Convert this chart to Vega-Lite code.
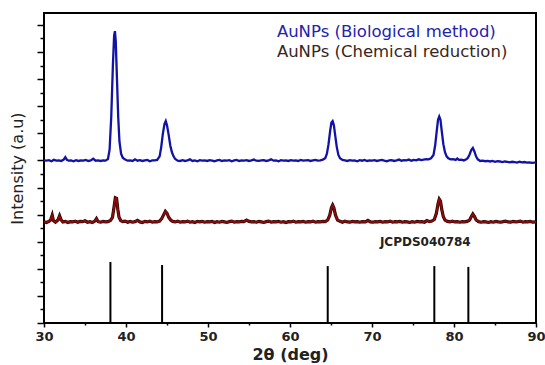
{
"$schema": "https://vega.github.io/schema/vega-lite/v6.json",
"width": 492,
"height": 310,
"autosize": "none",
"padding": {"left": 44, "top": 13, "right": 9, "bottom": 42},
"config": {"view": {"stroke": "#000", "strokeWidth": 2}, "font": "DejaVu Sans"},
"datasets": {
"blue": [
{"x":30.0,"y":6.0},{"x":30.3,"y":5.99},{"x":30.6,"y":6.01},{"x":30.9,"y":5.97},{"x":31.2,"y":6.02},{"x":31.5,"y":5.99},{"x":31.8,"y":6.0},{"x":32.1,"y":5.98},{"x":32.4,"y":6.03},{"x":32.6,"y":6.12},{"x":32.8,"y":6.02},{"x":33.0,"y":5.99},{"x":33.3,"y":6.0},{"x":33.6,"y":5.97},{"x":33.9,"y":6.01},{"x":34.2,"y":5.98},{"x":34.5,"y":6.0},{"x":34.8,"y":5.99},{"x":35.1,"y":6.02},{"x":35.4,"y":5.98},{"x":35.7,"y":6.0},{"x":36.0,"y":6.06},{"x":36.3,"y":5.99},{"x":36.6,"y":6.0},{"x":36.9,"y":5.98},{"x":37.2,"y":6.0},{"x":37.5,"y":5.99},{"x":37.8,"y":6.05},{"x":38.0,"y":6.4},{"x":38.2,"y":7.6},{"x":38.4,"y":9.5},{"x":38.55,"y":10.6},{"x":38.65,"y":10.77},{"x":38.75,"y":10.4},{"x":38.9,"y":9.0},{"x":39.05,"y":7.6},{"x":39.2,"y":6.7},{"x":39.4,"y":6.25},{"x":39.6,"y":6.1},{"x":39.9,"y":6.03},{"x":40.2,"y":5.99},{"x":40.5,"y":6.0},{"x":40.8,"y":5.98},{"x":41.1,"y":6.04},{"x":41.4,"y":5.99},{"x":41.7,"y":6.01},{"x":42.0,"y":5.98},{"x":42.3,"y":6.0},{"x":42.6,"y":6.02},{"x":42.9,"y":5.97},{"x":43.2,"y":6.0},{"x":43.5,"y":6.0},{"x":43.8,"y":6.02},{"x":44.1,"y":6.15},{"x":44.3,"y":6.5},{"x":44.5,"y":7.0},{"x":44.7,"y":7.35},{"x":44.85,"y":7.45},{"x":45.0,"y":7.3},{"x":45.2,"y":6.95},{"x":45.4,"y":6.55},{"x":45.6,"y":6.3},{"x":45.8,"y":6.15},{"x":46.0,"y":6.05},{"x":46.3,"y":5.99},{"x":46.6,"y":5.98},{"x":46.9,"y":6.01},{"x":47.2,"y":5.98},{"x":47.5,"y":6.0},{"x":47.8,"y":6.04},{"x":48.1,"y":5.98},{"x":48.4,"y":6.0},{"x":48.7,"y":5.97},{"x":49.0,"y":6.01},{"x":49.3,"y":5.99},{"x":49.6,"y":6.0},{"x":49.9,"y":5.98},{"x":50.2,"y":6.01},{"x":50.5,"y":5.99},{"x":50.8,"y":5.97},{"x":51.1,"y":6.0},{"x":51.4,"y":6.02},{"x":51.7,"y":5.98},{"x":52.0,"y":6.0},{"x":52.3,"y":5.99},{"x":52.6,"y":6.01},{"x":52.9,"y":5.97},{"x":53.2,"y":6.0},{"x":53.5,"y":6.02},{"x":53.8,"y":5.98},{"x":54.1,"y":6.0},{"x":54.4,"y":5.99},{"x":54.7,"y":6.01},{"x":55.0,"y":5.98},{"x":55.3,"y":6.0},{"x":55.6,"y":6.03},{"x":55.9,"y":5.99},{"x":56.2,"y":5.98},{"x":56.5,"y":6.0},{"x":56.8,"y":6.01},{"x":57.1,"y":5.98},{"x":57.4,"y":6.0},{"x":57.7,"y":6.04},{"x":58.0,"y":5.99},{"x":58.3,"y":6.0},{"x":58.6,"y":5.97},{"x":58.9,"y":6.01},{"x":59.2,"y":5.99},{"x":59.5,"y":6.0},{"x":59.8,"y":5.98},{"x":60.1,"y":6.01},{"x":60.4,"y":5.99},{"x":60.7,"y":6.0},{"x":61.0,"y":5.98},{"x":61.3,"y":6.02},{"x":61.6,"y":5.99},{"x":61.9,"y":6.0},{"x":62.2,"y":6.01},{"x":62.5,"y":5.98},{"x":62.8,"y":6.0},{"x":63.1,"y":6.02},{"x":63.4,"y":5.99},{"x":63.7,"y":6.0},{"x":64.0,"y":6.03},{"x":64.3,"y":6.08},{"x":64.5,"y":6.25},{"x":64.7,"y":6.6},{"x":64.9,"y":7.1},{"x":65.05,"y":7.4},{"x":65.2,"y":7.45},{"x":65.35,"y":7.3},{"x":65.5,"y":6.95},{"x":65.7,"y":6.5},{"x":65.9,"y":6.2},{"x":66.1,"y":6.08},{"x":66.4,"y":6.02},{"x":66.7,"y":6.0},{"x":67.0,"y":5.98},{"x":67.3,"y":6.01},{"x":67.6,"y":5.99},{"x":67.9,"y":6.0},{"x":68.2,"y":5.97},{"x":68.5,"y":6.01},{"x":68.8,"y":5.99},{"x":69.1,"y":6.02},{"x":69.4,"y":5.98},{"x":69.7,"y":6.0},{"x":70.0,"y":5.99},{"x":70.3,"y":6.01},{"x":70.6,"y":5.98},{"x":70.9,"y":6.0},{"x":71.2,"y":6.02},{"x":71.5,"y":5.99},{"x":71.8,"y":5.97},{"x":72.1,"y":6.0},{"x":72.4,"y":6.01},{"x":72.7,"y":5.98},{"x":73.0,"y":6.0},{"x":73.3,"y":6.03},{"x":73.6,"y":5.99},{"x":73.9,"y":6.01},{"x":74.2,"y":6.0},{"x":74.5,"y":6.03},{"x":74.8,"y":5.99},{"x":75.1,"y":6.02},{"x":75.4,"y":6.0},{"x":75.7,"y":6.04},{"x":76.0,"y":6.01},{"x":76.3,"y":6.03},{"x":76.6,"y":6.05},{"x":76.9,"y":6.04},{"x":77.2,"y":6.08},{"x":77.5,"y":6.2},{"x":77.7,"y":6.55},{"x":77.9,"y":7.1},{"x":78.05,"y":7.5},{"x":78.2,"y":7.62},{"x":78.35,"y":7.5},{"x":78.5,"y":7.1},{"x":78.7,"y":6.6},{"x":78.9,"y":6.3},{"x":79.1,"y":6.15},{"x":79.3,"y":6.08},{"x":79.6,"y":6.04},{"x":79.9,"y":6.05},{"x":80.2,"y":6.02},{"x":80.4,"y":6.07},{"x":80.6,"y":6.02},{"x":80.9,"y":6.03},{"x":81.2,"y":6.0},{"x":81.5,"y":6.04},{"x":81.7,"y":6.1},{"x":81.9,"y":6.22},{"x":82.1,"y":6.38},{"x":82.3,"y":6.46},{"x":82.5,"y":6.32},{"x":82.7,"y":6.14},{"x":82.9,"y":6.04},{"x":83.2,"y":5.98},{"x":83.5,"y":5.99},{"x":83.8,"y":5.97},{"x":84.1,"y":5.98},{"x":84.4,"y":5.96},{"x":84.7,"y":5.98},{"x":85.0,"y":5.95},{"x":85.3,"y":5.97},{"x":85.6,"y":5.96},{"x":85.9,"y":5.94},{"x":86.2,"y":5.96},{"x":86.5,"y":5.95},{"x":86.8,"y":5.93},{"x":87.1,"y":5.95},{"x":87.4,"y":5.94},{"x":87.7,"y":5.92},{"x":88.0,"y":5.95},{"x":88.3,"y":5.93},{"x":88.6,"y":5.94},{"x":88.9,"y":5.92},{"x":89.2,"y":5.93},{"x":89.5,"y":5.91},{"x":89.8,"y":5.92},{"x":90.0,"y":5.92}
],
"red": [
{"x":30.0,"y":3.74},{"x":30.3,"y":3.71},{"x":30.6,"y":3.75},{"x":30.8,"y":3.8},{"x":31.0,"y":3.98},{"x":31.15,"y":3.78},{"x":31.4,"y":3.72},{"x":31.7,"y":3.8},{"x":31.9,"y":3.96},{"x":32.1,"y":3.8},{"x":32.3,"y":3.73},{"x":32.6,"y":3.75},{"x":32.9,"y":3.71},{"x":33.2,"y":3.74},{"x":33.5,"y":3.73},{"x":33.8,"y":3.76},{"x":34.1,"y":3.72},{"x":34.4,"y":3.75},{"x":34.7,"y":3.74},{"x":35.0,"y":3.77},{"x":35.3,"y":3.72},{"x":35.6,"y":3.74},{"x":35.9,"y":3.71},{"x":36.2,"y":3.76},{"x":36.4,"y":3.85},{"x":36.6,"y":3.74},{"x":36.9,"y":3.72},{"x":37.2,"y":3.75},{"x":37.5,"y":3.73},{"x":37.8,"y":3.74},{"x":38.1,"y":3.78},{"x":38.35,"y":3.9},{"x":38.55,"y":4.3},{"x":38.7,"y":4.62},{"x":38.85,"y":4.6},{"x":39.0,"y":4.2},{"x":39.15,"y":3.9},{"x":39.35,"y":3.78},{"x":39.6,"y":3.74},{"x":39.9,"y":3.76},{"x":40.2,"y":3.72},{"x":40.5,"y":3.75},{"x":40.8,"y":3.72},{"x":41.1,"y":3.74},{"x":41.4,"y":3.79},{"x":41.7,"y":3.73},{"x":42.0,"y":3.71},{"x":42.3,"y":3.75},{"x":42.6,"y":3.73},{"x":42.9,"y":3.76},{"x":43.2,"y":3.72},{"x":43.5,"y":3.74},{"x":43.8,"y":3.73},{"x":44.1,"y":3.76},{"x":44.35,"y":3.85},{"x":44.6,"y":4.0},{"x":44.8,"y":4.12},{"x":45.0,"y":4.05},{"x":45.2,"y":3.9},{"x":45.45,"y":3.8},{"x":45.7,"y":3.75},{"x":46.0,"y":3.73},{"x":46.3,"y":3.76},{"x":46.6,"y":3.72},{"x":46.9,"y":3.74},{"x":47.2,"y":3.73},{"x":47.5,"y":3.76},{"x":47.8,"y":3.72},{"x":48.1,"y":3.74},{"x":48.4,"y":3.71},{"x":48.7,"y":3.75},{"x":49.0,"y":3.73},{"x":49.3,"y":3.75},{"x":49.6,"y":3.72},{"x":49.9,"y":3.74},{"x":50.2,"y":3.73},{"x":50.5,"y":3.75},{"x":50.8,"y":3.71},{"x":51.1,"y":3.74},{"x":51.4,"y":3.72},{"x":51.7,"y":3.75},{"x":52.0,"y":3.73},{"x":52.3,"y":3.71},{"x":52.6,"y":3.74},{"x":52.9,"y":3.76},{"x":53.2,"y":3.72},{"x":53.5,"y":3.74},{"x":53.8,"y":3.73},{"x":54.1,"y":3.75},{"x":54.4,"y":3.74},{"x":54.7,"y":3.8},{"x":55.0,"y":3.75},{"x":55.3,"y":3.73},{"x":55.6,"y":3.74},{"x":55.9,"y":3.72},{"x":56.2,"y":3.75},{"x":56.5,"y":3.73},{"x":56.8,"y":3.71},{"x":57.1,"y":3.74},{"x":57.4,"y":3.76},{"x":57.7,"y":3.72},{"x":58.0,"y":3.74},{"x":58.3,"y":3.73},{"x":58.6,"y":3.75},{"x":58.9,"y":3.72},{"x":59.2,"y":3.74},{"x":59.5,"y":3.71},{"x":59.8,"y":3.74},{"x":60.1,"y":3.73},{"x":60.4,"y":3.76},{"x":60.7,"y":3.72},{"x":61.0,"y":3.74},{"x":61.3,"y":3.73},{"x":61.6,"y":3.75},{"x":61.9,"y":3.72},{"x":62.2,"y":3.74},{"x":62.5,"y":3.73},{"x":62.8,"y":3.76},{"x":63.1,"y":3.72},{"x":63.4,"y":3.74},{"x":63.7,"y":3.73},{"x":64.0,"y":3.75},{"x":64.3,"y":3.74},{"x":64.6,"y":3.8},{"x":64.85,"y":3.98},{"x":65.05,"y":4.25},{"x":65.2,"y":4.35},{"x":65.35,"y":4.25},{"x":65.55,"y":3.98},{"x":65.8,"y":3.8},{"x":66.1,"y":3.75},{"x":66.4,"y":3.72},{"x":66.7,"y":3.76},{"x":67.0,"y":3.73},{"x":67.3,"y":3.72},{"x":67.6,"y":3.75},{"x":67.9,"y":3.73},{"x":68.2,"y":3.74},{"x":68.5,"y":3.72},{"x":68.8,"y":3.74},{"x":69.2,"y":3.73},{"x":69.5,"y":3.79},{"x":69.8,"y":3.73},{"x":70.1,"y":3.72},{"x":70.4,"y":3.74},{"x":70.7,"y":3.73},{"x":71.0,"y":3.75},{"x":71.3,"y":3.72},{"x":71.6,"y":3.74},{"x":71.9,"y":3.73},{"x":72.2,"y":3.76},{"x":72.5,"y":3.72},{"x":72.8,"y":3.74},{"x":73.1,"y":3.73},{"x":73.4,"y":3.75},{"x":73.7,"y":3.72},{"x":74.0,"y":3.74},{"x":74.3,"y":3.73},{"x":74.6,"y":3.71},{"x":74.9,"y":3.74},{"x":75.2,"y":3.72},{"x":75.5,"y":3.75},{"x":75.8,"y":3.73},{"x":76.1,"y":3.74},{"x":76.4,"y":3.72},{"x":76.7,"y":3.78},{"x":77.0,"y":3.74},{"x":77.3,"y":3.76},{"x":77.6,"y":3.82},{"x":77.85,"y":4.05},{"x":78.05,"y":4.4},{"x":78.2,"y":4.57},{"x":78.35,"y":4.5},{"x":78.5,"y":4.2},{"x":78.7,"y":3.92},{"x":78.9,"y":3.8},{"x":79.2,"y":3.75},{"x":79.5,"y":3.73},{"x":79.8,"y":3.76},{"x":80.1,"y":3.73},{"x":80.4,"y":3.74},{"x":80.7,"y":3.72},{"x":81.0,"y":3.74},{"x":81.3,"y":3.73},{"x":81.6,"y":3.75},{"x":81.9,"y":3.8},{"x":82.1,"y":3.92},{"x":82.3,"y":4.02},{"x":82.5,"y":3.93},{"x":82.7,"y":3.8},{"x":83.0,"y":3.74},{"x":83.3,"y":3.72},{"x":83.6,"y":3.74},{"x":83.9,"y":3.73},{"x":84.2,"y":3.71},{"x":84.5,"y":3.74},{"x":84.8,"y":3.72},{"x":85.1,"y":3.75},{"x":85.4,"y":3.73},{"x":85.7,"y":3.72},{"x":86.0,"y":3.74},{"x":86.3,"y":3.76},{"x":86.6,"y":3.73},{"x":86.9,"y":3.72},{"x":87.2,"y":3.75},{"x":87.5,"y":3.73},{"x":87.8,"y":3.74},{"x":88.1,"y":3.76},{"x":88.4,"y":3.72},{"x":88.7,"y":3.74},{"x":89.0,"y":3.73},{"x":89.3,"y":3.75},{"x":89.6,"y":3.72},{"x":90.0,"y":3.73}
],
"sticks": [
{"x":38.1,"y":2.25,"b":0},{"x":44.4,"y":2.14,"b":0},{"x":64.6,"y":2.1,"b":0},{"x":77.6,"y":2.1,"b":0},{"x":81.75,"y":2.07,"b":0}
],
"labels": [
{"x":58.4,"y":10.74,"t":"AuNPs (Biological method)","c":"#2222b0"},
{"x":58.4,"y":10.0,"t":"AuNPs (Chemical reduction)","c":"#3a2620"}
],
"ref": [{"x":76.5,"y":3.0,"t":"JCPDS040784"}]
},
"layer": [
{
"data": {"name": "red"},
"mark": {"type": "line", "color": "#2a0505", "strokeWidth": 3.2},
"encoding": {
"x": {"field": "x", "type": "quantitative", "scale": {"domain": [30, 90], "nice": false},
"axis": {"title": "2θ (deg)", "values": [30,35,40,45,50,55,60,65,70,75,80,85,90], "tickCount": 100,
"labelExpr": "datum.value % 10 === 0 ? '' + datum.value : ''",
"tickSize": {"condition": {"test": "datum.value % 10 !== 0", "value": 2}, "value": 4},
"tickColor": "#000", "tickWidth": 1.5, "domain": false, "grid": false, "labelOverlap": false, "labelFlush": false,
"labelFont": "DejaVu Sans", "labelFontWeight": "bold", "labelFontSize": 13, "labelColor": "#222", "labelPadding": 3,
"titleFont": "DejaVu Sans", "titleFontWeight": "bold", "titleFontSize": 16, "titleColor": "#222", "titlePadding": 3}},
"y": {"field": "y", "type": "quantitative", "scale": {"domain": [0, 11.44], "nice": false, "zero": false},
"axis": {"title": "Intensity (a.u)", "values": [0,0.5,1,1.5,2,2.5,3,3.5,4,4.5,5,5.5,6,6.5,7,7.5,8,8.5,9,9.5,10,10.5,11], "tickCount": 100,
"labels": false,
"tickSize": {"condition": {"test": "datum.value % 1 !== 0", "value": 4}, "value": 7},
"tickColor": "#000", "tickWidth": 1.5, "domain": false, "grid": false,
"titleFont": "DejaVu Sans", "titleFontWeight": "normal", "titleFontSize": 16, "titleColor": "#222", "titlePadding": 10.5}}
}
},
{
"data": {"name": "red"},
"mark": {"type": "line", "color": "#8b0a0a", "strokeWidth": 1.9},
"encoding": {"x": {"field": "x", "type": "quantitative"}, "y": {"field": "y", "type": "quantitative"}}
},
{
"data": {"name": "blue"},
"mark": {"type": "line", "color": "#1212a6", "strokeWidth": 2.3},
"encoding": {"x": {"field": "x", "type": "quantitative"}, "y": {"field": "y", "type": "quantitative"}}
},
{
"data": {"name": "sticks"},
"mark": {"type": "rule", "color": "#000", "strokeWidth": 2},
"encoding": {"x": {"field": "x", "type": "quantitative"}, "y": {"field": "b", "type": "quantitative"}, "y2": {"field": "y"}}
},
{
"data": {"name": "labels"},
"mark": {"type": "text", "align": "left", "baseline": "middle", "fontSize": 16.5, "font": "DejaVu Sans"},
"encoding": {"x": {"field": "x", "type": "quantitative"}, "y": {"field": "y", "type": "quantitative"}, "text": {"field": "t"}, "color": {"field": "c", "type": "nominal", "scale": null}}
},
{
"data": {"name": "ref"},
"mark": {"type": "text", "align": "center", "baseline": "middle", "fontSize": 12, "fontWeight": "bold", "font": "DejaVu Sans", "color": "#222"},
"encoding": {"x": {"field": "x", "type": "quantitative"}, "y": {"field": "y", "type": "quantitative"}, "text": {"field": "t"}}
}
]
}
